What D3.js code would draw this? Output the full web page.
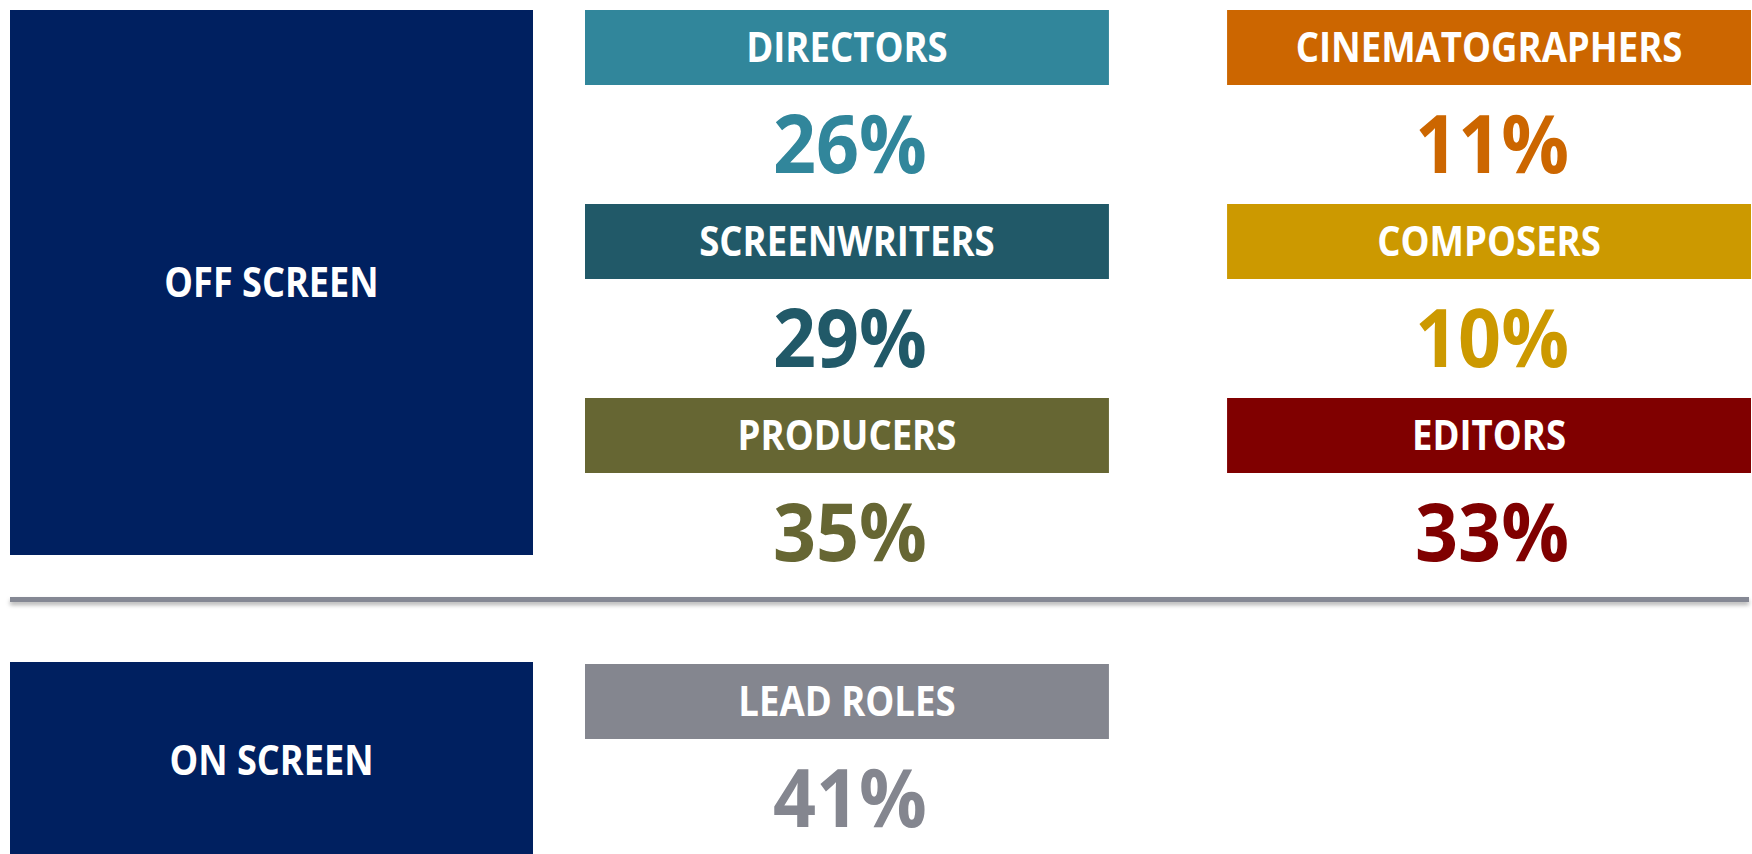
<!DOCTYPE html>
<html>
<head>
<meta charset="utf-8">
<script src="https://cdn.jsdelivr.net/npm/d3@7"></script>
<style>
  body { margin: 0; background: #fff; }
  text { font-family: "Open Sans", "Noto Sans", sans-serif; font-weight: 700; }
</style>
</head>
<body>
<div id="chart"></div>
<script>
var width = 1752
var height = 854

// off screen roles, two columns of three
var offRoles = ['DIRECTORS', 'SCREENWRITERS', 'PRODUCERS', 'CINEMATOGRAPHERS', 'COMPOSERS', 'EDITORS']
var offValues = [26, 29, 35, 11, 10, 33]
var offColors = ['#31869b', '#215968', '#666633', '#cc6600', '#cc9900', '#800000']

// on screen roles
var onRoles = ['LEAD ROLES']
var onValues = [41]
var onColors = ['#84868f']

var groups = ['OFF SCREEN', 'ON SCREEN']
var navy = '#002060'

var svg = d3.select('#chart').append('svg')
  .attr('width', width)
  .attr('height', height)

var defs = svg.append('defs')
var shadow = defs.append('filter').attr('id', 'shadow')
  .attr('filterUnits', 'userSpaceOnUse')
  .attr('x', 0).attr('y', 580).attr('width', width).attr('height', 40)
shadow.append('feDropShadow')
  .attr('dx', 0).attr('dy', 3).attr('stdDeviation', 2)
  .attr('flood-color', '#000').attr('flood-opacity', 0.3)

var col = d3.scaleBand().domain([0, 1]).range([585, 1751]).paddingInner(0.184)
var row = d3.scaleBand().domain([0, 1, 2]).range([10, 592])
var barH = 75
var labelSize = 42
var pctSize = 81
var cap = 0.714

var offData = offRoles.map((d, i) => ({name: d, value: offValues[i], color: offColors[i], c: Math.floor(i / 3), r: i % 3, top: 0}))
var onData = onRoles.map((d, i) => ({name: d, value: onValues[i], color: onColors[i], c: 0, r: 0, top: 654}))

// group boxes
var groupBoxes = [{name: groups[0], y0: 10, y1: 555}, {name: groups[1], y0: 662, y1: 858}]
var gb = svg.append('g').selectAll('g').data(groupBoxes).enter().append('g')
gb.append('rect')
  .attr('x', 10).attr('y', d => d.y0)
  .attr('width', 523).attr('height', d => d.y1 - d.y0)
  .attr('fill', navy)
gb.append('text')
  .attr('transform', d => 'translate(271.5,' + ((d.y0 + d.y1) / 2 + labelSize * cap / 2) + ') scale(0.86,1)')
  .attr('text-anchor', 'middle')
  .attr('font-size', labelSize)
  .attr('fill', '#fff')
  .text(d => d.name)

// divider
svg.append('rect')
  .attr('x', 10).attr('width', 1739)
  .attr('y', 597).attr('height', 5)
  .attr('fill', '#858894')
  .attr('filter', 'url(#shadow)')

var cells = svg.append('g').selectAll('.cell')
  .data(offData.concat(onData))
  .enter().append('g')
  .attr('class', 'cell')
  .attr('transform', d => 'translate(' + col(d.c) + ',' + (row(d.r) + d.top) + ')')

cells.append('rect')
  .attr('width', col.bandwidth()).attr('height', barH)
  .attr('fill', d => d.color)

cells.append('text')
  .attr('transform', 'translate(' + col.bandwidth() / 2 + ',' + (barH / 2 + labelSize * cap / 2) + ') scale(0.87,1)')
  .attr('text-anchor', 'middle')
  .attr('font-size', labelSize)
  .attr('fill', '#fff')
  .text(d => d.name)

cells.append('text')
  .attr('class', 'pct')
  .attr('transform', 'translate(' + (col.bandwidth() / 2 + 3) + ',' + (barH + 59 + pctSize * cap / 2) + ') scale(0.93,1)')
  .attr('text-anchor', 'middle')
  .attr('font-size', pctSize)
  .attr('fill', d => d.color)
  .text(d => d.value + '%')
</script>
</body>
</html>
